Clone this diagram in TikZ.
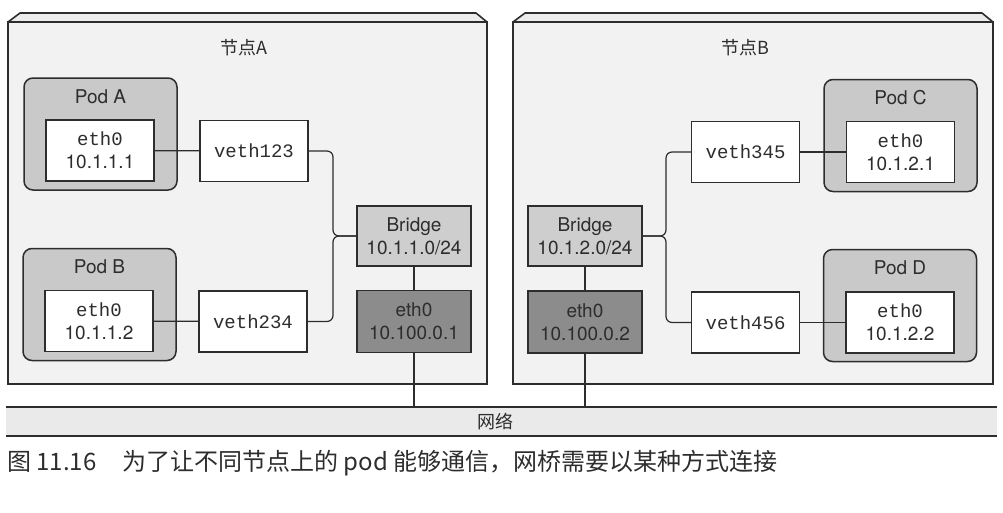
\documentclass[tikz,border=0pt]{standalone}
\usepackage{fontspec}
\setmainfont{TeX Gyre Heros}
\setmonofont{Liberation Mono}
\newfontfamily\cjk{Noto Sans CJK SC}
\usetikzlibrary{positioning}

\definecolor{ink}{RGB}{45,45,45}
\definecolor{slabfill}{RGB}{242,242,242}
\definecolor{slabtop}{RGB}{236,236,236}
\definecolor{podfill}{RGB}{201,201,201}
\definecolor{brfill}{RGB}{206,206,206}
\definecolor{hostfill}{RGB}{140,140,140}
\definecolor{netfill}{RGB}{234,234,234}

\begin{document}
\begin{tikzpicture}[x=1pt,y=-1pt]
\tikzset{
  lbl/.style={font=\fontsize{19}{23}\selectfont, text=ink, align=center, inner sep=0pt},
  ifbox/.style={lbl, draw=ink, line width=1.3pt, fill=white, minimum width=108pt, minimum height=61pt},
  podbox/.style={draw=ink, line width=1.5pt, fill=podfill, rounded corners=9pt, minimum width=153pt, minimum height=112pt},
  brbox/.style={ifbox, fill=brfill, minimum width=114pt, minimum height=60pt},
  hostbox/.style={ifbox, fill=hostfill, minimum width=114pt, minimum height=62pt},
  link/.style={draw=ink, line width=1.2pt, rounded corners=6pt},
  zh/.style={font=\cjk\fontsize{18}{22}\selectfont, text=ink, inner sep=0pt}
}
\useasboundingbox (0,0) rectangle (1003,512);

% the two hosts
\foreach \l/\r in {8/487, 513/993} {
\fill[slabtop] (\l,22) -- (\l+12,13) -- (\r-11,13) -- (\r,22) -- cycle;
\draw[ink, line width=1.6pt, line join=round] (\l,22) -- (\l+12,13) -- (\r-11,13) -- (\r,22);
\draw[ink, line width=1.8pt, fill=slabfill] (\l,22) rectangle (\r,384);
}
\node[zh] (hostAlbl) at (244,48) {节点A};
\node[zh] (hostBlbl) at (745,48) {节点B};

% network bar
\fill[netfill] (6,407) rectangle (997,436);
\draw[ink, line width=1.6pt] (6,407) -- (997,407);
\draw[ink, line width=1.6pt] (6,436) -- (997,436);
\node[zh] (net) at (495,422) {网络};

% host A
\node[podbox] (podA) at (100.5,134) {};
\node[lbl] at ([yshift=-19pt]podA.north) {Pod A};
\node[ifbox] (ethA) at (100,150.5) {\texttt{eth0}\\10.1.1.1};
\node[ifbox] (veth123) at (254,151) {\texttt{veth123}};

\node[podbox] (podB) at (99.5,304.5) {};
\node[lbl] at ([yshift=-19pt]podB.north) {Pod B};
\node[ifbox] (ethB) at (99,321) {\texttt{eth0}\\10.1.1.2};
\node[ifbox] (veth234) at (253,321.5) {\texttt{veth234}};

\node[brbox] (brA) at (414,236) {Bridge\\10.1.1.0/24};
\node[hostbox] (nicA) at (414,321.5) {eth0\\10.100.0.1};

% host B
\node[podbox] (podC) at (900.5,135.5) {};
\node[lbl] at ([yshift=-19pt]podC.north) {Pod C};
\node[ifbox] (ethC) at (900.5,152) {\texttt{eth0}\\10.1.2.1};
\node[ifbox] (veth345) at (745.5,152) {\texttt{veth345}};

\node[podbox] (podD) at (900,305.5) {};
\node[lbl] at ([yshift=-19pt]podD.north) {Pod D};
\node[ifbox] (ethD) at (900,322.5) {\texttt{eth0}\\10.1.2.2};
\node[ifbox] (veth456) at (745.5,322.5) {\texttt{veth456}};

\node[brbox] (brB) at (585,236) {Bridge\\10.1.2.0/24};
\node[hostbox] (nicB) at (585,322) {eth0\\10.100.0.2};

% wiring
\coordinate (jA) at (333,236);
\coordinate (jB) at (666,236);
\coordinate (netA) at (414,407);
\coordinate (netB) at (585,407);

\draw[link] (ethA) -- (veth123);
\draw[link] (ethB) -- (veth234);
\draw[link] (veth123.east) -| (jA) -- (brA.west);
\draw[link] (veth234.east) -| (jA) -- (brA.west);
\draw[link] (brA) -- (nicA);
\draw[link] (nicA) -- (netA);

\draw[link] (ethC) -- (veth345);
\draw[link] (ethD) -- (veth456);
\draw[link] (veth345.west) -| (jB) -- (brB.east);
\draw[link] (veth456.west) -| (jB) -- (brB.east);
\draw[link] (brB) -- (nicB);
\draw[link] (nicB) -- (netB);

% caption
\node[zh, font=\cjk\fontsize{24}{28}\selectfont, anchor=base west] (cap) at (7,470)
  {图 11.16\hspace{26pt}为了让不同节点上的 pod 能够通信，网桥需要以某种方式连接};
\end{tikzpicture}
\end{document}
